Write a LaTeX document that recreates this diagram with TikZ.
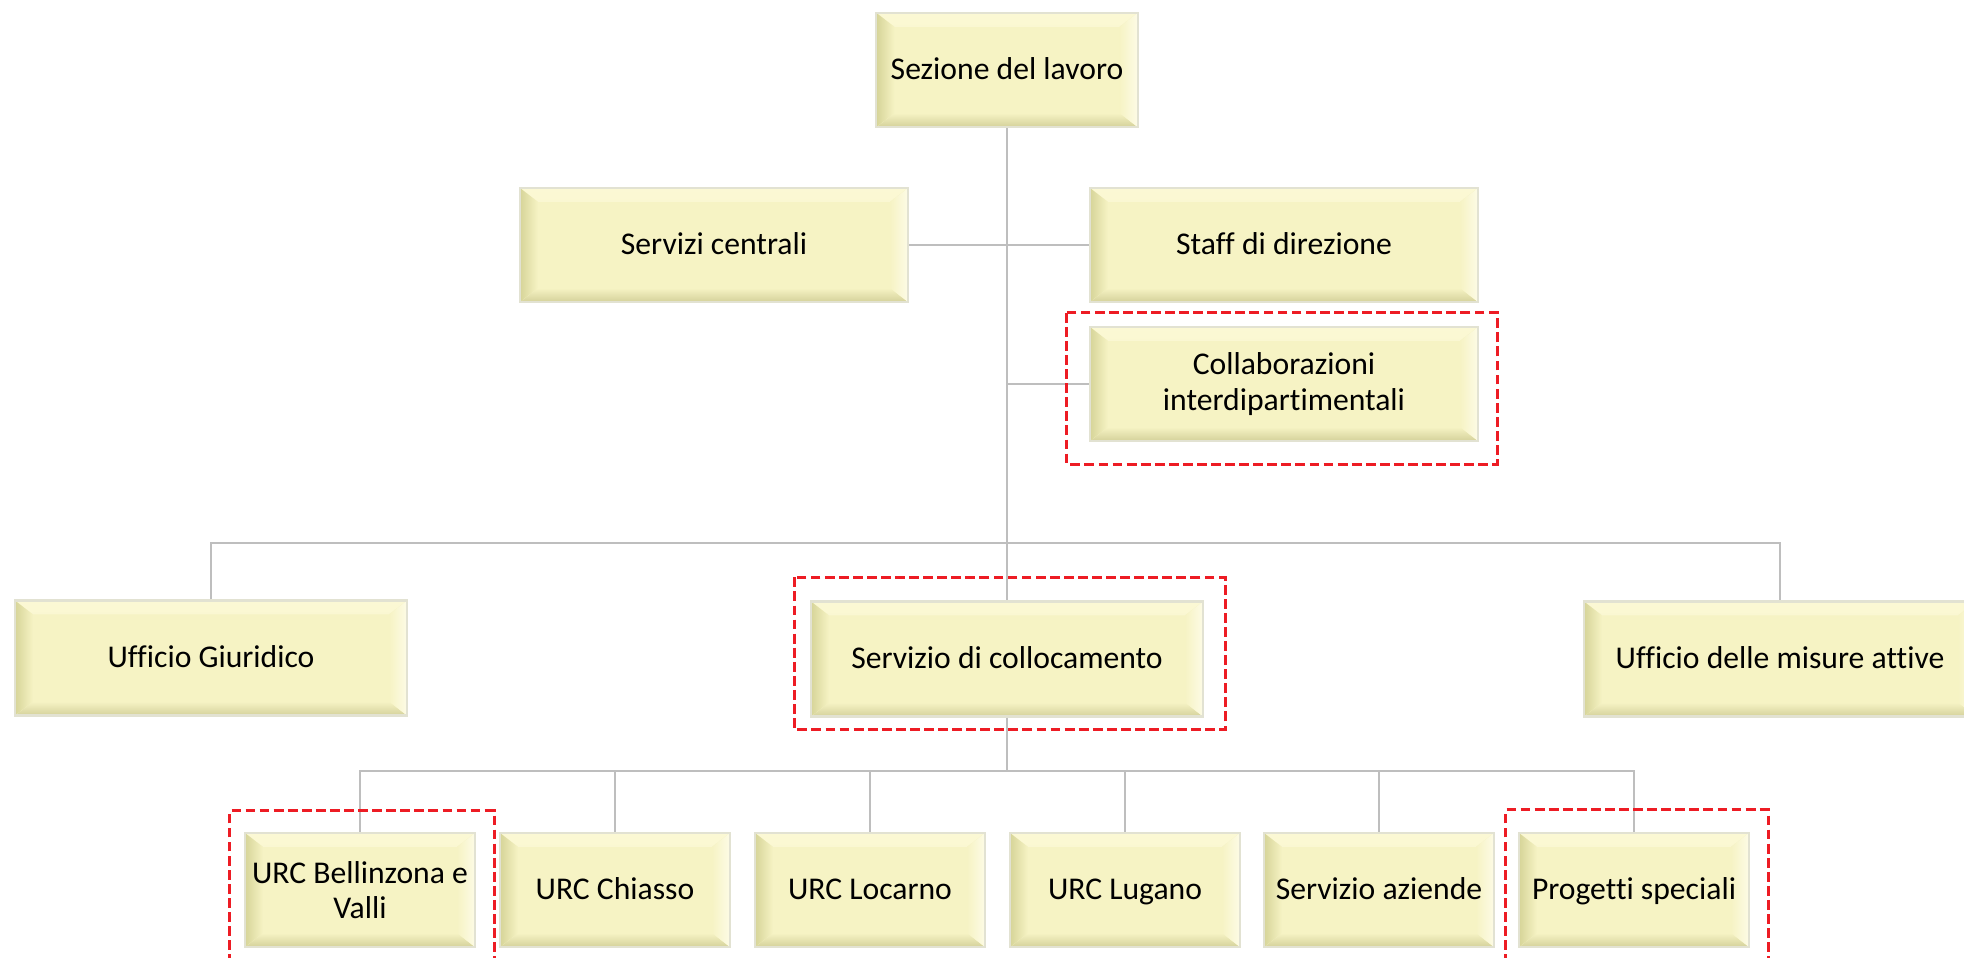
\documentclass[tikz,border=0pt]{standalone}
\usepackage{fontspec}
\setmainfont{Carlito}[Ligatures=NoCommon]
\usepackage{xcolor}
\usepackage{tikz}
\usetikzlibrary{calc}
\definecolor{boxfill}{RGB}{246,243,196}
\definecolor{bevleft}{RGB}{214,212,152}
\definecolor{bevbot}{RGB}{212,209,154}
\definecolor{bevtop}{RGB}{251,248,212}
\definecolor{bevright}{RGB}{253,251,230}
\definecolor{boxline}{RGB}{226,226,210}
\definecolor{linkgray}{RGB}{190,190,190}
\definecolor{markred}{RGB}{237,28,36}

\begin{document}
\begin{tikzpicture}[x=0.01cm,y=-0.01cm,
	unit/.style={rectangle,draw=boxline,line width=0.6pt,fill=boxfill,align=center,inner sep=0pt,
		font=\fontsize{9}{10}\selectfont,
		path picture={
			\fill[top color=bevtop,bottom color=boxfill] (path picture bounding box.north west) -- (path picture bounding box.north east) -- ([shift={(-0.18cm,-0.14cm)}]path picture bounding box.north east) -- ([shift={(0.18cm,-0.14cm)}]path picture bounding box.north west) -- cycle;
			\fill[bottom color=bevbot,top color=boxfill] (path picture bounding box.south west) -- (path picture bounding box.south east) -- ([shift={(-0.18cm,0.14cm)}]path picture bounding box.south east) -- ([shift={(0.18cm,0.14cm)}]path picture bounding box.south west) -- cycle;
			\fill[left color=bevleft,right color=boxfill] (path picture bounding box.south west) -- (path picture bounding box.north west) -- ([shift={(0.18cm,-0.14cm)}]path picture bounding box.north west) -- ([shift={(0.18cm,0.14cm)}]path picture bounding box.south west) -- cycle;
			\fill[right color=bevright,left color=boxfill] (path picture bounding box.south east) -- (path picture bounding box.north east) -- ([shift={(-0.18cm,-0.14cm)}]path picture bounding box.north east) -- ([shift={(-0.18cm,0.14cm)}]path picture bounding box.south east) -- cycle;
		}},
	oneline/.style={text height=0.75em,text depth=0.2em},
	headbox/.style={unit,oneline,minimum width=2.61cm,minimum height=1.14cm},
	staffbox/.style={unit,minimum width=3.88cm,minimum height=1.14cm},
	officebox/.style={unit,oneline,minimum width=3.92cm,minimum height=1.15cm},
	urcbox/.style={unit,minimum width=2.30cm,minimum height=1.14cm},
	link/.style={draw=linkgray,line width=0.5pt},
	redframe/.style={draw=markred,line width=0.85pt,dash pattern=on 2.8pt off 1.2pt}]
	\useasboundingbox (0,0) rectangle (1964,958);
	\clip (0,0) rectangle (1964,958);

	\node[headbox] (sez) at (1007,70) {Sezione del lavoro};
	\node[staffbox,oneline] (serv) at (714,245) {Servizi centrali};
	\node[staffbox,oneline] (staff) at (1284,245) {Staff di direzione};
	\node[staffbox] (collab) at (1284,384) {Collaborazioni\\interdipartimentali};
	\node[officebox] (giur) at (211,658) {Ufficio Giuridico};
	\node[officebox] (coll) at (1007,659) {Servizio di collocamento};
	\node[officebox] (misure) at (1780,659) {Ufficio delle misure attive};
	\node[urcbox] (bell) at (360,890) {URC Bellinzona e\\Valli};
	\node[urcbox,oneline] (chiasso) at (615,890) {URC Chiasso};
	\node[urcbox,oneline] (locarno) at (870,890) {URC Locarno};
	\node[urcbox,oneline] (lugano) at (1125,890) {URC Lugano};
	\node[urcbox,oneline] (aziende) at (1379,890) {Servizio aziende};
	\node[urcbox,oneline] (prog) at (1634,890) {Progetti speciali};

	\coordinate (bus) at (1007,543);
	\coordinate (subbus) at (1007,771);

	\draw[link] (sez.south) -- (coll.north);
	\draw[link] (serv.east) -- (staff.west);
	\draw[link] (sez.south |- collab.west) -- (collab.west);
	\draw[link] (giur.north) |- (bus) -| (misure.north);
	\draw[link] (coll.south) -- (subbus);
	\draw[link] (bell.north) |- (subbus) -| (prog.north);
	\foreach \n in {chiasso,locarno,lugano,aziende}
		\draw[link] (\n.north) -- (\n.north |- subbus);

	\draw[redframe] ($(collab.north west)+(-22,-13)$) rectangle ($(collab.south east)+(18,22)$);
	\draw[redframe] ($(coll.north west)+(-15,-23)$) rectangle ($(coll.south east)+(21,12)$);
	\draw[redframe] ($(bell.south west)+(-14,30)$) |- ($(bell.north east)+(18,-21)$) -- ($(bell.south east)+(18,30)$);
	\draw[redframe] ($(prog.south west)+(-12,30)$) |- ($(prog.north east)+(18,-22)$) -- ($(prog.south east)+(18,30)$);
\end{tikzpicture}
\end{document}
